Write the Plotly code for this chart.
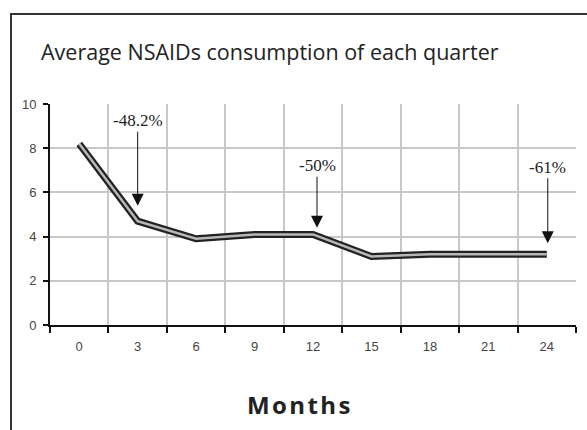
import plotly.graph_objects as go

months = ["0", "3", "6", "9", "12", "15", "18", "21", "24"]
consumption = [8.2, 4.7, 3.9, 4.1, 4.1, 3.1, 3.2, 3.2, 3.2]
y_ticks = [0, 2, 4, 6, 8, 10]
notes = ["-48.2%", "-50%", "-61%"]
note_months = ["3", "12", "24"]
note_tips = [5.4, 4.4, 3.7]

W, H = 587, 430
L, R, T, B = 50, 11, 104, 105

fig = go.Figure()
fig.add_trace(go.Scatter(x=months, y=consumption, mode="lines",
                         line=dict(color="#222222", width=7), hoverinfo="skip"))
fig.add_trace(go.Scatter(x=months, y=consumption, mode="lines",
                         line=dict(color="#b8b8b8", width=2.5), hoverinfo="skip"))

offsets = [-85, -62, -76]
xshifts = [0, 4, 1]
for txt, m, tip, off, xs in zip(notes, note_months, note_tips, offsets, xshifts):
    fig.add_annotation(x=months.index(m), y=tip, text=txt, showarrow=True, ax=0, ay=off,
                       xshift=xs, arrowhead=2, arrowsize=2.4, arrowwidth=1,
                       arrowcolor="#111111",
                       font=dict(family="Liberation Serif", size=17, color="#222222"))

pw = (W - L - R)
ph = (H - T - B)
def px(xp):
    return (xp - L) / pw
def py(yp):
    return (H - B - yp) / ph

fig.add_shape(type="rect", xref="paper", yref="paper",
              x0=px(11), x1=px(600), y0=py(450), y1=py(14),
              line=dict(color="#333333", width=2), fillcolor="rgba(0,0,0,0)")

fig.add_annotation(x=px(270), y=py(52), xref="paper", yref="paper",
                   xanchor="center", yanchor="middle",
                   text="Average NSAIDs consumption of each quarter", showarrow=False,
                   font=dict(family="Open Sans", size=21.5, color="#222222"))
fig.add_annotation(x=px(298), y=py(404), xref="paper", yref="paper",
                   xanchor="center", yanchor="middle",
                   text="\u200a".join("Months"), showarrow=False,
                   font=dict(family="Open Sans", size=24, color="#222222", weight="bold"))

fig.update_xaxes(type="category", tickson="boundaries", ticks="outside", ticklen=6,
                 tickwidth=2, tickcolor="#111111", showline=True, linecolor="#111111",
                 linewidth=2, showgrid=True, gridcolor="#c8c8c8", gridwidth=2,
                 ticklabelstandoff=8,
                 tickfont=dict(family="Liberation Sans", size=13, color="#444444"),
                 range=[-0.5, 8.5], fixedrange=True)
fig.update_yaxes(range=[0, 10], tickvals=y_ticks, ticks="outside", ticklen=5,
                 tickwidth=2, tickcolor="#111111", showline=True, linecolor="#111111",
                 linewidth=2, showgrid=True, gridcolor="#c8c8c8", gridwidth=2,
                 zeroline=False, ticklabelstandoff=4,
                 tickfont=dict(family="Liberation Sans", size=13, color="#444444"))

fig.update_layout(width=W, height=H, margin=dict(l=L, r=R, t=T, b=B),
                  paper_bgcolor="white", plot_bgcolor="white", showlegend=False)
fig.write_html("out.html", config={"displayModeBar": False},
               post_script="document.body.style.margin='0px';")
